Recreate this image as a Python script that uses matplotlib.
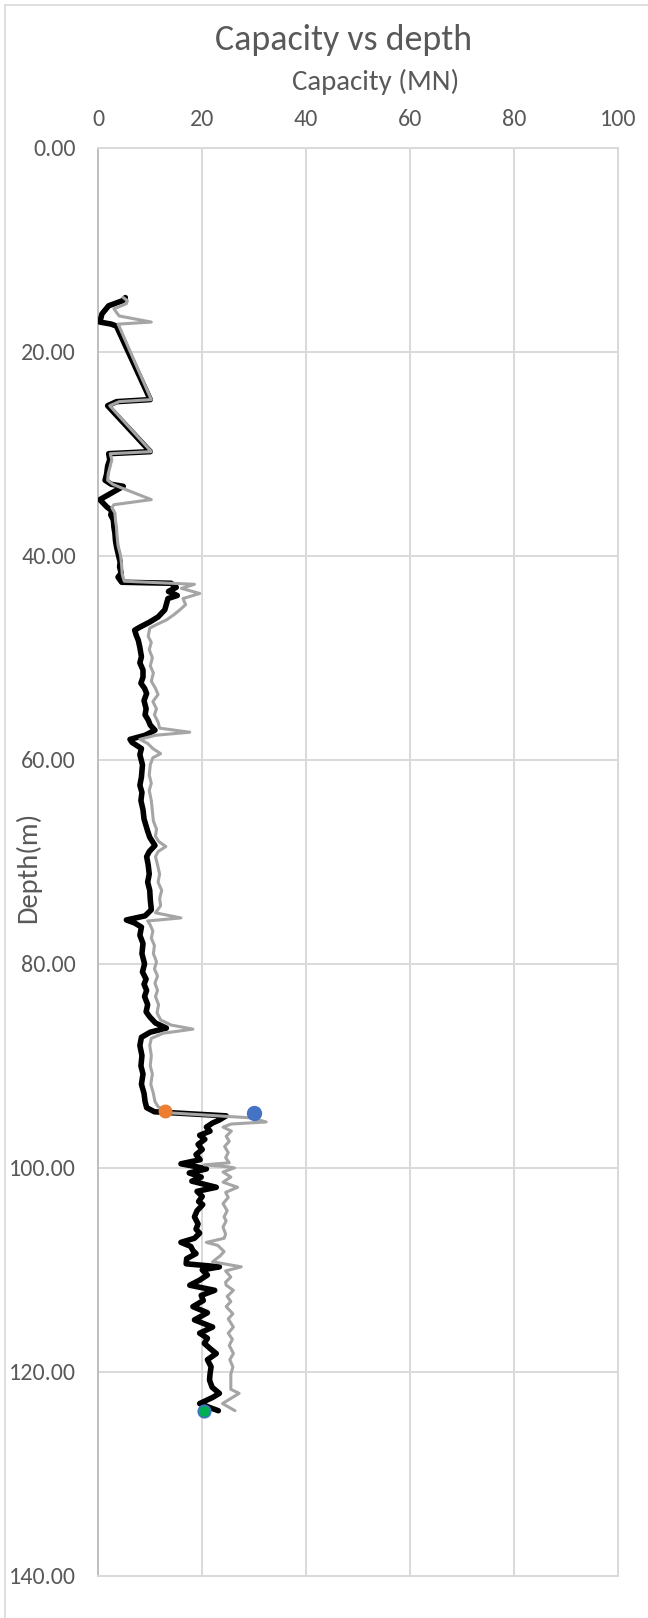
import matplotlib
matplotlib.use("Agg")
import matplotlib.pyplot as plt
from matplotlib.lines import Line2D
from matplotlib.ticker import FormatStrFormatter

plt.rcParams['font.family'] = ['Carlito', 'Liberation Sans Narrow', 'DejaVu Sans']

# Net capacity profile (black)
depth_net = [
    14.7, 15.0, 15.5, 16.3, 17.1, 17.3, 17.5, 24.7, 24.9, 25.3,
    29.8, 30.0, 30.6, 31.2, 32.0, 32.6, 33.0, 33.2, 34.5, 35.2,
    35.6, 36.0, 36.5, 37.2, 37.8, 38.5, 39.1, 40.0, 40.6, 41.1,
    41.7, 42.1, 42.6, 42.7, 43.1, 43.5, 43.9, 44.2, 45.3, 46.0,
    46.5, 47.0, 47.3, 47.8, 48.3, 49.0, 49.9, 50.5, 51.2, 51.9,
    52.5, 53.0, 53.5, 54.2, 55.0, 55.6, 56.1, 56.6, 57.1, 57.6,
    58.0, 58.3, 58.9, 59.5, 60.5, 61.7, 62.5, 63.2, 64.0, 64.9,
    65.8, 66.5, 67.0, 67.6, 68.4, 69.0, 69.5, 70.3, 71.2, 72.0,
    72.8, 73.7, 74.7, 75.3, 75.7, 76.0, 76.4, 77.2, 78.0, 79.0,
    80.0, 80.8, 81.5, 82.0, 82.6, 83.2, 84.0, 84.7, 85.2, 85.8,
    86.3, 86.7, 87.2, 88.0, 89.0, 90.0, 90.8, 91.8, 92.7, 93.5,
    94.1, 94.5, 94.9, 95.3, 95.6, 96.0, 96.4, 96.8, 97.2, 97.7,
    98.2, 98.7, 99.2, 99.6, 99.9, 100.1, 100.5, 100.9, 101.3, 101.9,
    102.3, 102.8, 103.3, 103.6, 104.2, 104.8, 105.5, 106.0, 106.4, 106.9,
    107.3, 107.7, 108.1, 108.4, 108.9, 109.4, 109.7, 110.0, 110.5, 111.0,
    111.5, 112.0, 112.5, 113.0, 113.6, 114.2, 114.9, 115.2, 115.6, 116.2,
    116.7, 117.2, 117.7, 118.2, 118.8, 119.5, 120.2, 120.8, 121.5, 122.1,
    122.5, 123.1, 123.5, 123.8,
]
capacity_net = [
    5.2, 4.7, 2.0, 0.7, 0.3, 2.5, 3.5, 10.0, 3.5, 1.8,
    10.0, 2.0, 2.2, 1.8, 1.6, 1.3, 2.5, 4.8, 0.3, 1.6,
    2.6, 2.4, 2.9, 3.0, 3.2, 3.3, 3.5, 3.9, 4.2, 4.1,
    4.4, 3.8, 4.5, 14.0, 15.0, 13.5, 15.2, 13.4, 12.8, 11.5,
    9.9, 8.0, 7.0, 7.3, 7.7, 8.0, 8.3, 8.0, 8.6, 8.6,
    8.2, 8.9, 9.3, 8.8, 9.2, 9.0, 9.6, 10.0, 10.9, 9.0,
    6.1, 6.5, 8.3, 8.0, 8.5, 8.3, 8.0, 8.4, 8.2, 8.6,
    8.8, 9.2, 9.5, 9.9, 10.9, 9.8, 9.3, 9.6, 9.8, 9.5,
    9.9, 10.0, 10.2, 9.0, 5.4, 7.0, 8.3, 8.0, 8.6, 8.4,
    8.9, 8.5, 9.2, 8.8, 9.3, 8.9, 9.5, 9.2, 9.9, 11.0,
    13.1, 10.0, 8.3, 8.0, 8.4, 8.2, 8.6, 8.3, 8.8, 9.0,
    9.3, 10.8, 24.6, 23.3, 22.0, 20.8, 21.5, 19.5, 20.5, 19.2,
    20.0, 18.8, 19.6, 15.9, 19.0, 20.8, 17.5, 19.8, 18.0, 22.7,
    19.0, 20.0, 19.3, 20.1, 19.0, 18.5, 19.2, 18.8, 19.5, 18.5,
    15.9, 17.8, 18.2, 18.8, 17.0, 16.9, 23.3, 20.0, 21.0, 19.5,
    17.6, 22.4, 19.8, 20.2, 18.2, 21.0, 18.5, 20.0, 22.0, 19.5,
    21.0, 20.4, 21.5, 22.7, 21.0, 21.7, 21.5, 21.4, 21.9, 23.3,
    22.0, 19.5, 21.5, 23.1,
]

# Total capacity profile (grey)
depth_total = [
    14.7, 15.0, 15.3, 15.8, 16.5, 17.1, 17.3, 17.5, 24.7, 24.9,
    25.3, 29.8, 30.0, 30.6, 31.2, 32.0, 32.6, 33.0, 33.3, 34.5,
    35.0, 35.3, 35.8, 36.5, 37.2, 38.0, 39.0, 40.0, 41.0, 41.8,
    42.5, 42.8, 43.2, 43.7, 44.2, 44.8, 45.3, 45.8, 46.3, 46.8,
    47.1, 47.9, 48.5, 49.2, 50.0, 50.8, 51.5, 52.3, 53.0, 53.6,
    54.3, 55.0, 55.6, 56.3, 56.9, 57.3, 57.6, 58.0, 58.4, 58.9,
    59.4, 59.8, 60.5, 61.5, 62.3, 63.0, 64.0, 65.0, 66.0, 66.8,
    67.5, 68.0, 68.5, 69.0, 69.5, 70.3, 71.2, 72.0, 72.8, 73.6,
    74.3, 75.0, 75.5, 75.8, 76.2, 76.8, 77.5, 78.2, 79.0, 79.8,
    80.5, 81.2, 81.9, 82.6, 83.2, 84.0, 84.8, 85.5, 86.0, 86.4,
    86.8, 87.3, 88.0, 89.0, 90.0, 90.8, 91.8, 92.7, 93.5, 94.0,
    94.6, 95.1, 95.5, 95.7, 96.0, 96.4, 96.9, 97.4, 97.9, 98.5,
    99.0, 99.5, 99.7, 99.9, 100.0, 100.4, 100.9, 101.4, 101.9, 102.4,
    102.9, 103.5, 104.2, 104.8, 105.2, 105.8, 106.5, 106.9, 107.3, 107.6,
    108.2, 108.6, 109.2, 109.7, 110.1, 110.7, 111.2, 111.5, 112.0, 112.6,
    113.1, 113.6, 114.3, 114.8, 115.6, 116.2, 116.8, 117.4, 118.2, 118.8,
    119.5, 120.2, 121.0, 121.7, 122.1, 122.6, 123.1, 123.8,
]
capacity_total = [
    4.8, 5.6, 5.4, 3.0, 4.0, 10.2, 3.8, 4.0, 10.2, 4.0,
    2.2, 10.2, 2.3, 2.6, 2.3, 1.9, 1.8, 2.8, 4.2, 10.2,
    3.0, 2.6, 3.2, 3.3, 3.5, 3.6, 3.8, 4.3, 4.5, 4.6,
    5.0, 18.5, 16.0, 19.5, 16.3, 16.8, 15.7, 14.5, 13.1, 11.0,
    9.9, 9.6, 10.2, 9.8, 10.4, 10.0, 10.6, 10.2, 11.0, 11.5,
    10.5, 11.2, 10.8, 11.5, 11.8, 17.6, 11.0, 8.0, 9.5, 10.5,
    12.0, 10.5, 10.0, 9.8, 10.2, 9.8, 10.2, 10.4, 10.6, 11.2,
    11.0, 11.6, 13.0, 11.5, 11.0, 11.4, 11.8, 11.5, 12.2, 11.8,
    12.0, 11.0, 15.9, 9.5, 10.0, 10.5, 10.2, 10.8, 10.6, 11.2,
    10.8, 11.4, 10.9, 11.4, 11.0, 11.6, 11.3, 12.0, 14.0, 18.2,
    12.5, 10.2, 9.9, 10.2, 10.0, 10.4, 10.1, 10.6, 10.9, 11.5,
    13.5, 29.5, 32.3, 25.6, 24.0, 25.6, 24.6, 25.2, 24.3, 25.0,
    24.5, 25.2, 20.4, 25.0, 26.2, 24.0, 25.5, 24.0, 26.8, 24.5,
    25.0, 24.0, 24.8, 24.2, 24.6, 24.0, 24.5, 24.2, 20.8, 23.0,
    24.2, 23.5, 22.0, 27.5, 24.5, 25.5, 24.5, 24.6, 26.0, 24.8,
    25.5, 24.6, 25.9, 25.0, 26.0, 25.0, 25.8, 25.2, 26.0, 25.3,
    25.9, 25.5, 25.5, 25.5, 27.1, 25.5, 23.9, 26.3,
]

# Highlighted points: (capacity, depth)
point_orange = (12.8, 94.4)
point_blue = (30.0, 94.6)
point_green = (20.3, 123.8)

x_ticks = [0, 20, 40, 60, 80, 100]
y_ticks = [0, 20, 40, 60, 80, 100, 120, 140]

W, H = 648, 1618
text_color = '#595959'
grid_color = '#D9D9D9'

fig = plt.figure(figsize=(W / 100, H / 100), dpi=100)
fig.patch.set_facecolor('white')

# chart-area frame
fig.add_artist(Line2D([5 / W, 1.0], [1 - 5 / H, 1 - 5 / H], color=grid_color, lw=1.2))
fig.add_artist(Line2D([5 / W, 5 / W], [0.0, 1 - 5 / H], color=grid_color, lw=1.2))

left, right, top, bottom = 98.3, 618.0, 147.6, 1576.0
ax = fig.add_axes([left / W, 1 - bottom / H, (right - left) / W, (bottom - top) / H])

ax.plot(capacity_net, depth_net, color='black', lw=4.0,
        solid_joinstyle='round', solid_capstyle='round', zorder=3)
ax.plot(capacity_total, depth_total, color='#A5A5A5', lw=2.2,
        solid_joinstyle='round', solid_capstyle='round', zorder=4)

ax.plot(*point_orange, 'o', color='#ED7D31', ms=9, zorder=5)
ax.plot(*point_blue, 'o', color='#4472C4', ms=10, zorder=5)
ax.plot(*point_green, 'o', color='#00B050', mec='#4472C4', mew=1.2, ms=9, zorder=5)

ax.set_xlim(0, 100)
ax.set_ylim(140, 0)
ax.set_xticks(x_ticks)
ax.set_yticks(y_ticks)
ax.yaxis.set_major_formatter(FormatStrFormatter('%.2f'))
ax.xaxis.tick_top()
ax.tick_params(axis='x', length=0, pad=13, labelsize=17.3, labelcolor=text_color)
ax.tick_params(axis='y', length=0, pad=16, labelsize=17.3, labelcolor=text_color)

ax.grid(True, color=grid_color, lw=1.4, zorder=0)
ax.set_axisbelow(True)
for name in ('top', 'right', 'bottom'):
    ax.spines[name].set_color(grid_color)
    ax.spines[name].set_linewidth(1.4)
ax.spines['left'].set_color('#BFBFBF')
ax.spines['left'].set_linewidth(1.4)

fig.text(344 / W, 1 - 50 / H, 'Capacity vs depth', ha='center', va='baseline',
         fontsize=25.8, color=text_color)
fig.text(375.6 / W, 1 - 90 / H, 'Capacity (MN)', ha='center', va='baseline',
         fontsize=20.8, color=text_color)
fig.text(28 / W, 1 - 867 / H, 'Depth(m)', ha='center', va='center', rotation=90,
         fontsize=20.5, color=text_color)

fig.savefig('out.png', dpi=100, facecolor='white')
